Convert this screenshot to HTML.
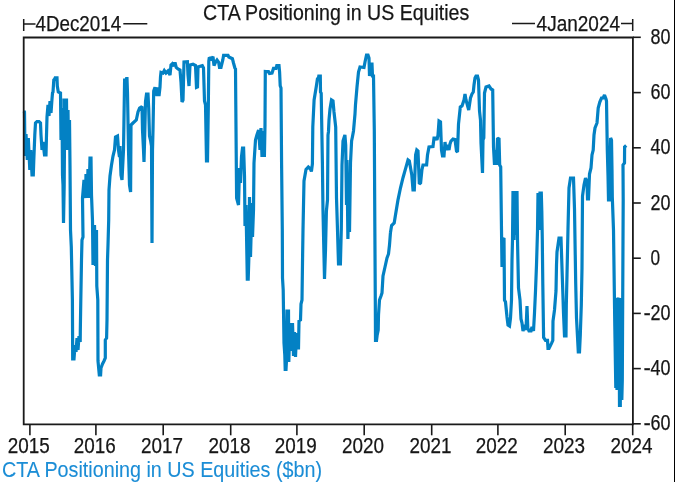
<!DOCTYPE html>
<html><head><meta charset="utf-8"><style>
html,body{margin:0;padding:0;background:#fff;}
body{width:675px;height:482px;overflow:hidden;position:relative;}
svg{position:absolute;left:0;top:0;}
.t{font-family:"Liberation Sans",Arial,sans-serif;font-size:21px;fill:#161616;stroke:#161616;stroke-width:0.25px;}
#rb{position:absolute;left:674px;top:0;width:1px;height:482px;background:#000;}
</style></head><body>
<svg width="675" height="482" viewBox="0 0 675 482">
<polyline points="23.8,111 24.5,112 25,156 26,134 27.3,160 28.3,138 29.8,170 30.8,150 32,175 33.3,175 33.8,160 34.8,135 35.5,123 37,121.5 39,121.5 40.5,123 41,135 42,150 43,142 44.5,155 46,155 46.5,135 47,117 48,105 49,116 50,101 51,113 52,99 52.5,93 53,92 53.8,80 54.6,79.2 55.2,77.8 57,77.8 57.3,86 58.3,92 60.5,93 61,140 62,108 62.5,175 63,185 63.5,223 64.2,185 64.5,140 64,100 66.5,100 67,150 68,110 68.5,150 69.5,120 70,166 70.5,230 71.3,247 72.4,300 72.7,359 74,359 75,345 76,352 77,338 78,350 79,336 80.2,342 80.3,331 80.8,300 81.5,260 82,240 83,237 82.5,198 84,180 85.5,198 86,174 87,198 88,169 89,198 90,158 91,158 91.5,195 92.5,221 93,265 94.5,225 95.5,266 96.5,230 96.8,286 97.8,300 98,361 99.3,375 100.6,375 101,368 102.5,364 104,361 105.3,358 105.3,340 106.6,338 107,320 107.5,260 108,245 108.7,220 109,190 110,176 111.5,165 113,156 114.5,150 115.5,137 117.5,136 118.5,150 119.5,157 120,146 121,175 122,180 123.5,150 124.4,93 124.6,80 126,80 126.5,78.5 127,78.5 127.5,93 128.5,150 129.5,185 130.6,192 131,125 133,123 136.3,120 138,112 139.6,108 142,106.5 142.5,130 143.5,150 144,162 144.6,140 145.5,101.5 146.5,94 148,94 148.7,108 149.5,136 150.5,140 151.5,146 152,243 152.5,150 153,130 153.7,91 155,87.4 157,96 158,87.4 159,96 160,87 160.5,77 161,72.4 163,73 164.3,70.5 166,73 168,71 170,75 171,65 172.4,63.7 174,66 175,62.5 176.2,67.4 178,69 180,70 181,82 182,102 183,100 184,62 187.4,61.8 188,75 189,86 190,65 193,64.3 195.5,65.6 196.5,87.4 197.5,87 198,67 201,66 202.3,65.6 203.5,68 204.5,101 205.5,104.8 206.5,161 207.5,161 208.3,108 208.8,61.2 209.3,57.5 211,59 213,56.8 214,65.5 215.6,62 217,60 218.7,62.4 219.5,67.4 221,67.4 222.8,60 223.6,55.3 228,55.3 228.8,57 232.4,58.7 233.5,63 234.9,68 235.5,69 235.8,105 236.6,198 238.5,205 239.5,168 240.5,183 241.5,156.5 242.5,148 243.6,148 244.5,176 245,226 246,205 247.3,279.2 248.2,279.2 248.8,260 249.5,197 250.5,257 251.5,220 252,203 252.5,237 253.5,210 254,163 255.5,140 256.9,135 258.6,130 260,150 261,128 262,157 263,131 264.4,157 265,125 265.3,71.6 266,71.7 268.5,71.7 269.5,73.5 272,73 273.5,68.4 276,68.4 276.8,65.5 279,65.5 279.6,72 280.2,85.7 281,88 281.6,165 282.3,229 282.5,278 283.2,290 284,343 284.8,355 285.2,369.3 286,369.3 286.4,362 287,311 288.5,311 288.8,362 290,323 291.5,351 292.5,323 293.5,356 294.5,332 295.5,357 296.5,333 297.5,348 298.5,348 299,321 300.5,320 301,304 302,300 302.5,263 303,230 304,181 306,169.4 308.3,167 310.4,169 311.4,171.5 312.4,164 312.8,127 314.1,100 316.3,86.6 317.4,79 318.3,79 318.8,76 320.3,76 320.5,92 321.2,93.2 322.4,163 323,211 324.5,279 325.5,250 326.4,211 327.5,200 328,135 328.5,131.4 329,120 330,109 331.5,100 333,101 334,112 335.7,127 336.5,198 337.5,230 338.5,264 340.4,264 341.3,229 342,165 343,141 344.9,135 345.7,145 346.5,205 347,160 347.9,239 348.8,200 349.5,232 350.5,163 351.6,141 352.4,137 353.5,131 355,114 355.5,104.5 357,87 358.5,72 360,67 364,67.5 365,62 366.5,55 368,55 369,58 369.5,76 370.5,64 372,64 372.5,76 373.5,76 374.3,130 374.8,221 375.3,300 375.5,340.5 376.5,340.5 377.2,334.8 378.2,330 378.5,315 379.5,300 381,296 382,293 383,276 385,267 387,258 388.5,254 389.5,245 390.5,232 390.4,233 391.6,225.6 394.2,223 395.4,215.5 397.9,200.4 400.5,187.8 403,177.7 405.5,168.9 408,160 409.3,161 411.8,175 413,190 414.3,190 415.6,155 416.8,150 418,151 419.3,184 420.6,183 421.9,170 423,165 424,165 426.6,165 427.5,155 429,147 433,146.5 434,138 435.7,138 437,140 438,135 439,121 440.5,122 441.5,150 442.5,156 444,156 445,142 446,150 447.5,145 449,150 450,144 451,141 453,139 455,139.5 456.5,151 457.5,152 458.5,124 460.3,107 462,106 464,100 465,94 466,100 468.7,110 470.5,98 472,94 473.3,92 474,85 475,78 476,76 477.5,76 478.5,80 479.5,111 480.5,120 481,143 482.5,173 483,140 483.8,138 484.5,93 486,87 489,86 491,89 492.7,90 493.5,147 494.5,165 495.5,150 496.5,165 497.5,139 499,138 499.7,165 500.7,167 501.5,230 502,267 502.5,240 504,238 504.5,300 505.5,302 507,317 508,325 509.5,326 510.5,318 511.5,300 512,260 512.5,240 513,191 514,240 515,191 516,235 517,191 517.5,240 518.5,288 520,300 521,319 522,323 523,331 524.5,325 526,330 527,306 527.8,328 529,331 531,331 532,327 533.5,331 534.5,313 535.5,291 536.5,265 537.5,231 538,193 539,230 540,193 541.3,193 541.8,211 542.3,240 542.8,284 543.6,337.5 545.5,340.4 547.5,340.4 548,348.3 549,348.3 550.3,345.8 551.5,343.4 552.8,340.4 553,321 554.5,310 556,291 556.5,265 557,252 558,245 559,238 561,238 561.5,253 562.5,283 563.5,313 564.5,336 566,336 566.3,305 567,275 568,229 569,188 570.5,178 573.5,178 574.5,209 575.7,283 576.5,318 578.3,352 579.5,352 580.3,335 581.3,305 582,268 582.5,196 584,185 585.5,178 587,182 587.5,199 588.5,199 589.5,174 591,168 592,155 593.2,150 594,135 595,128 597,123 598.2,108 599.8,102 601.5,98 603.2,98 604.5,95 606,99 606.5,101 607.3,150 608,175 608.5,200 609.8,200 610.2,160 610.6,138 611.5,140 612,170 612.3,197 613.5,230 614.8,326 615.8,388 616.3,300 616.8,298 617,390 618,300 619,298 619.5,405.3 620.3,405.3 620.5,320 621.4,298 621.8,400 622.3,380 622.7,300 623.2,200 623,165 624.5,163 624.6,147 626.2,145.5" fill="none" stroke="#0381c4" stroke-width="3.2" stroke-linejoin="miter" stroke-miterlimit="2"/>
<path d="M23.7 424.3 V37.5 H632.9 V424.3 Z" fill="none" stroke="#1a1a1a" stroke-width="1.8"/>
<line x1="29.9" y1="424.3" x2="29.9" y2="435.3" stroke="#1a1a1a" stroke-width="1.6"/>
<line x1="95.9" y1="424.3" x2="95.9" y2="435.3" stroke="#1a1a1a" stroke-width="1.6"/>
<line x1="163.2" y1="424.3" x2="163.2" y2="435.3" stroke="#1a1a1a" stroke-width="1.6"/>
<line x1="230.7" y1="424.3" x2="230.7" y2="435.3" stroke="#1a1a1a" stroke-width="1.6"/>
<line x1="296.9" y1="424.3" x2="296.9" y2="435.3" stroke="#1a1a1a" stroke-width="1.6"/>
<line x1="364.2" y1="424.3" x2="364.2" y2="435.3" stroke="#1a1a1a" stroke-width="1.6"/>
<line x1="431.7" y1="424.3" x2="431.7" y2="435.3" stroke="#1a1a1a" stroke-width="1.6"/>
<line x1="497.9" y1="424.3" x2="497.9" y2="435.3" stroke="#1a1a1a" stroke-width="1.6"/>
<line x1="565.2" y1="424.3" x2="565.2" y2="435.3" stroke="#1a1a1a" stroke-width="1.6"/>
<line x1="632.7" y1="424.3" x2="632.7" y2="435.3" stroke="#1a1a1a" stroke-width="1.6"/>
<line x1="632.9" y1="423.8" x2="640.8" y2="423.8" stroke="#1a1a1a" stroke-width="1.6"/>
<text x="650.4" y="430.4" class="t" style="font-size:22px" textLength="20.0" lengthAdjust="spacingAndGlyphs">60</text>
<text x="643.6" y="430.4" class="t" style="font-size:22px">-</text>
<line x1="632.9" y1="368.6" x2="640.8" y2="368.6" stroke="#1a1a1a" stroke-width="1.6"/>
<text x="650.4" y="375.2" class="t" style="font-size:22px" textLength="20.0" lengthAdjust="spacingAndGlyphs">40</text>
<text x="643.6" y="375.2" class="t" style="font-size:22px">-</text>
<line x1="632.9" y1="313.4" x2="640.8" y2="313.4" stroke="#1a1a1a" stroke-width="1.6"/>
<text x="650.4" y="320.0" class="t" style="font-size:22px" textLength="20.0" lengthAdjust="spacingAndGlyphs">20</text>
<text x="643.6" y="320.0" class="t" style="font-size:22px">-</text>
<line x1="632.9" y1="258.2" x2="640.8" y2="258.2" stroke="#1a1a1a" stroke-width="1.6"/>
<text x="650.4" y="264.8" class="t" style="font-size:22px" textLength="9.6" lengthAdjust="spacingAndGlyphs">0</text>
<line x1="632.9" y1="203.0" x2="640.8" y2="203.0" stroke="#1a1a1a" stroke-width="1.6"/>
<text x="650.4" y="209.6" class="t" style="font-size:22px" textLength="20.0" lengthAdjust="spacingAndGlyphs">20</text>
<line x1="632.9" y1="147.8" x2="640.8" y2="147.8" stroke="#1a1a1a" stroke-width="1.6"/>
<text x="650.4" y="154.4" class="t" style="font-size:22px" textLength="20.0" lengthAdjust="spacingAndGlyphs">40</text>
<line x1="632.9" y1="92.6" x2="640.8" y2="92.6" stroke="#1a1a1a" stroke-width="1.6"/>
<text x="650.4" y="99.2" class="t" style="font-size:22px" textLength="20.0" lengthAdjust="spacingAndGlyphs">60</text>
<line x1="632.9" y1="37.3" x2="640.8" y2="37.3" stroke="#1a1a1a" stroke-width="1.6"/>
<text x="650.4" y="43.9" class="t" style="font-size:22px" textLength="20.0" lengthAdjust="spacingAndGlyphs">80</text>
<text x="7.70" y="453.0" class="t" style="font-size:21.5px" textLength="42.0" lengthAdjust="spacingAndGlyphs">2015</text>
<text x="73.70" y="453.0" class="t" style="font-size:21.5px" textLength="42.0" lengthAdjust="spacingAndGlyphs">2016</text>
<text x="141.00" y="453.0" class="t" style="font-size:21.5px" textLength="42.0" lengthAdjust="spacingAndGlyphs">2017</text>
<text x="208.50" y="453.0" class="t" style="font-size:21.5px" textLength="42.0" lengthAdjust="spacingAndGlyphs">2018</text>
<text x="274.70" y="453.0" class="t" style="font-size:21.5px" textLength="42.0" lengthAdjust="spacingAndGlyphs">2019</text>
<text x="342.00" y="453.0" class="t" style="font-size:21.5px" textLength="42.0" lengthAdjust="spacingAndGlyphs">2020</text>
<text x="409.50" y="453.0" class="t" style="font-size:21.5px" textLength="42.0" lengthAdjust="spacingAndGlyphs">2021</text>
<text x="475.70" y="453.0" class="t" style="font-size:21.5px" textLength="42.0" lengthAdjust="spacingAndGlyphs">2022</text>
<text x="543.00" y="453.0" class="t" style="font-size:21.5px" textLength="42.0" lengthAdjust="spacingAndGlyphs">2023</text>
<text x="610.50" y="453.0" class="t" style="font-size:21.5px" textLength="42.0" lengthAdjust="spacingAndGlyphs">2024</text>
<path d="M23.7 18.9 V30.9 M23.7 24 H35.5 M123.3 23.7 H147.3 M512 23.6 H535 M621 23.6 H632.7 M632.7 18.9 V30.9" stroke="#1a1a1a" stroke-width="1.5" fill="none"/>
<text x="35.5" y="30.5" class="t" style="font-size:21.5px" textLength="85.6" lengthAdjust="spacingAndGlyphs">4Dec2014</text>
<text x="536.6" y="30.5" class="t" style="font-size:21.5px" textLength="83.4" lengthAdjust="spacingAndGlyphs">4Jan2024</text>
<text x="203.0" y="20.0" class="t" style="font-size:22px" textLength="266.3" lengthAdjust="spacingAndGlyphs">CTA Positioning in US Equities</text>
<text x="2.0" y="477.0" class="t" style="fill:#1b8dd6;stroke:#1b8dd6;stroke-width:0.1px;font-size:22px" textLength="320.0" lengthAdjust="spacingAndGlyphs">CTA Positioning in US Equities ($bn)</text>
</svg>
<div id="rb"></div>
</body></html>
